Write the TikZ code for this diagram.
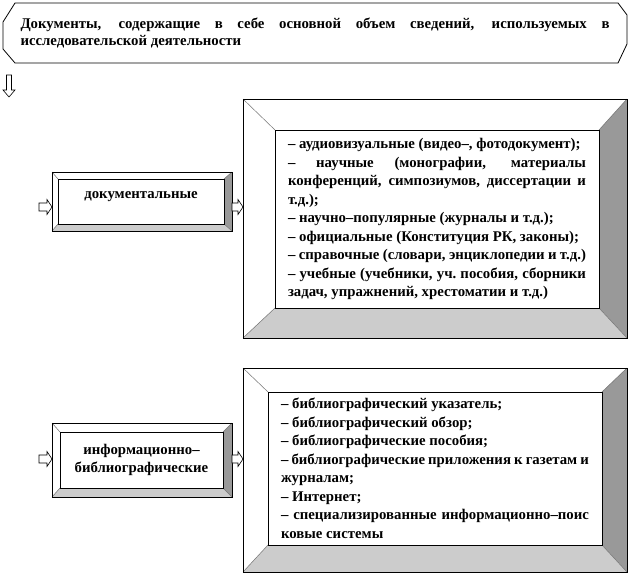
\documentclass[tikz,border=0pt]{standalone}
\usepackage{fontspec}
\setmainfont{Liberation Serif}
\usetikzlibrary{calc}
\definecolor{bvdark}{RGB}{153,153,153}
\definecolor{bvlight}{RGB}{204,204,204}
\hyphenpenalty=10000
\exhyphenpenalty=10000
% bevelled frame between an outer and an inner node
\newcommand{\bevelframe}[2]{%
  \fill[bvdark] (#1.north east) -- (#1.south east) -- (#2.south east) -- (#2.north east) -- cycle;
  \fill[bvlight] (#1.south west) -- (#1.south east) -- (#2.south east) -- (#2.south west) -- cycle;
  \draw[black!55,line width=.5pt] (#1.north west) -- (#2.north west) (#1.north east) -- (#2.north east)
    (#1.south west) -- (#2.south west) (#1.south east) -- (#2.south east);
  \draw[line width=.8pt] (#1.north west) rectangle (#1.south east) (#2.north west) rectangle (#2.south east);}

\begin{document}
\begin{tikzpicture}[x=1pt,y=-1pt,
    txt/.style={font=\bfseries\fontsize{14.8}{18.5}\selectfont},
    frame/.style={draw,line width=.8pt,fill=white,inner sep=0pt,outer sep=0pt},
    panel/.style={frame,txt,align=justify},
    tag/.style={frame,txt,align=center},
    hollowr/.style={draw,line width=.6pt,fill=white,to path={let \p1=(\tikztostart),\p2=(\tikztotarget) in
      (\x1,\y1+4pt) -- (\x2-5pt,\y1+4pt) -- (\x2-5pt,\y1+7.5pt) -- (\x2,\y1)
      -- (\x2-5pt,\y1-7.5pt) -- (\x2-5pt,\y1-4pt) -- (\x1,\y1-4pt) -- cycle}},
    hollowd/.style={draw,line width=.6pt,fill=white,to path={let \p1=(\tikztostart),\p2=(\tikztotarget) in
      (\x1-2.5pt,\y1) -- (\x1-2.5pt,\y2+7pt) -- (\x1-6pt,\y2+7pt) -- (\x1,\y2)
      -- (\x1+6pt,\y2+7pt) -- (\x1+2.5pt,\y2+7pt) -- (\x1+2.5pt,\y1) -- cycle}}]
  \useasboundingbox (0,0) rectangle (630,582);

  % heading
  \node[txt,font=\bfseries\fontsize{14.8}{17.5}\selectfont,inner sep=0pt,outer sep=0pt,
        minimum width=624pt,minimum height=60pt,text width=589pt,align=justify] (head) at (315,33)
    {Документы, содержащие в себе основной объем сведений, используемых в\linebreak
     исследовательской деятельности};
  \draw[line width=.8pt] ([xshift=12pt]head.north west) -- ([xshift=-9pt]head.north east)
    -- ([yshift=-12pt]head.north east) -- ([yshift=19pt]head.south east)
    -- ([xshift=-9pt]head.south east) -- ([xshift=12pt]head.south west)
    -- ([yshift=14pt]head.south west) -- ([yshift=-19pt]head.north west) -- cycle;
  \coordinate (d0) at (9,75);
  \coordinate (d1) at (9,97);
  \draw[hollowd] (d0) to (d1);

  % documentary sources
  \node[frame,minimum width=384pt,minimum height=239pt] (docout) at (435,218.5) {};
  \node[panel,minimum width=324pt,minimum height=178pt,text width=298pt] (doc) at (437,219)
    {– аудиовизуальные (видео–, фотодокумент);\\
     – научные (монографии, материалы\linebreak конференций, симпозиумов, диссертации и\linebreak т.д.);\\
     – научно–популярные (журналы и т.д.);\\
     – официальные (Конституция РК, законы);\\
     – справочные (словари, энциклопедии и т.д.)\\
     – учебные (учебники, уч.\ пособия, сборники\linebreak задач, упражнений, хрестоматии и т.д.)};
  \bevelframe{docout}{doc}

  \node[frame,minimum width=180pt,minimum height=59pt] (kind1out) at (142,201.5) {};
  \node[tag,minimum width=166pt,minimum height=45pt,text height=10pt,text depth=16pt] (kind1) at (141,201.5)
    {документальные};
  \bevelframe{kind1out}{kind1}
  \coordinate (k1in) at (39,207);
  \draw[hollowr] (k1in) to (k1in -| kind1out.west);
  \draw[hollowr] (kind1out.east |- k1in) to (docout.west |- k1in);

  % information and bibliographic sources
  \node[frame,minimum width=384pt,minimum height=204pt] (infout) at (435,470) {};
  \node[panel,minimum width=334pt,minimum height=153pt,text width=308pt] (inf) at (435,468.5)
    {– библиографический указатель;\\
     – библиографический обзор;\\
     – библиографические пособия;\\
     – библиографические приложения к газетам и\linebreak журналам;\\
     – Интернет;\\
     – специализированные информационно–поис\linebreak ковые системы};
  \bevelframe{infout}{inf}

  \node[frame,minimum width=180pt,minimum height=74pt] (kind2out) at (142,460) {};
  \node[tag,minimum width=163pt,minimum height=56pt] (kind2) at (141.5,460)
    {информационно–\\библиографические};
  \bevelframe{kind2out}{kind2}
  \coordinate (k2in) at (39,459);
  \draw[hollowr] (k2in) to (k2in -| kind2out.west);
  \draw[hollowr] (kind2out.east |- k2in) to (infout.west |- k2in);
\end{tikzpicture}
\end{document}
